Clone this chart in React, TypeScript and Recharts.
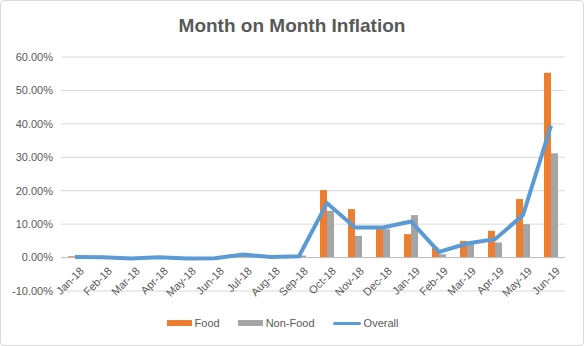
import { Bar, CartesianGrid, ComposedChart, Legend, Line, ReferenceLine, XAxis, YAxis } from 'recharts'

const months = ['Jan-18', 'Feb-18', 'Mar-18', 'Apr-18', 'May-18', 'Jun-18', 'Jul-18', 'Aug-18', 'Sep-18', 'Oct-18', 'Nov-18', 'Dec-18', 'Jan-19', 'Feb-19', 'Mar-19', 'Apr-19', 'May-19', 'Jun-19']
const food = [0.4, 0.1, -0.3, 0.2, -0.2, -0.2, 0.6, 0.2, 0.3, 20.2, 14.5, 8.5, 7.0, 3.0, 5.0, 8.0, 17.5, 55.3]
const nonFood = [0.1, 0.1, -0.2, 0.1, -0.2, -0.1, 1.0, 0.3, 0.6, 14.0, 6.5, 8.5, 12.7, 1.0, 4.2, 4.5, 10.0, 31.2]
const overall = [0.2, 0.1, -0.3, 0.1, -0.3, -0.2, 0.9, 0.2, 0.4, 16.3, 9.0, 9.0, 10.8, 1.7, 4.2, 5.5, 12.7, 39.5]
const yTicks = [-10, 0, 10, 20, 30, 40, 50, 60]

const data = months.map((m, i) => ({ month: m, food: food[i], nonFood: nonFood[i], overall: overall[i] }))

const FONT = 'Liberation Sans, Arial, sans-serif'
const TEXT = '#595959'

// labels sit next to the 0% line, not at the plot bottom
function MonthTick({ x, y, payload }: any) {
  return (
    <text
      x={x + 4}
      y={y - 33}
      transform={`rotate(-45 ${x + 4} ${y - 33})`}
      textAnchor="end"
      dominantBaseline="hanging"
      fontSize={11}
      fill={TEXT}
      fontFamily={FONT}
    >
      {payload.value}
    </text>
  )
}

function ChartLegend() {
  const item = { display: 'flex', alignItems: 'center', gap: 3 }
  return (
    <div style={{ display: 'flex', justifyContent: 'center', gap: 18, fontSize: 11, color: TEXT, fontFamily: FONT, paddingTop: 6 }}>
      <div style={item}>
        <span style={{ width: 25, height: 6, background: '#ED7D31', display: 'block' }} />
        Food
      </div>
      <div style={item}>
        <span style={{ width: 25, height: 6, background: '#A5A5A5', display: 'block' }} />
        Non-Food
      </div>
      <div style={item}>
        <span style={{ width: 28, height: 3, background: '#5B9BD5', display: 'block', borderRadius: 2 }} />
        Overall
      </div>
    </div>
  )
}

export default function App() {
  return (
    <div style={{ position: 'fixed', left: 0, top: 0, width: 584, height: 346, background: '#fff' }}>
      <div
        style={{
          position: 'absolute',
          inset: 0,
          border: '1px solid #D9D9D9',
          borderRadius: 4,
          boxSizing: 'border-box',
          pointerEvents: 'none',
        }}
      />
      <div
        style={{
          position: 'absolute',
          top: 15,
          width: 584,
          textAlign: 'center',
          fontFamily: FONT,
          fontWeight: 'bold',
          fontSize: 19,
          color: TEXT,
        }}
      >
        Month on Month Inflation
      </div>
      <ComposedChart
        width={584}
        height={346}
        data={data}
        margin={{ top: 57, right: 19, bottom: 0, left: 0 }}
        barCategoryGap="25%"
        barGap={0}
      >
        <CartesianGrid vertical={false} stroke="#D9D9D9" />
        <XAxis
          dataKey="month"
          interval={0}
          axisLine={false}
          tickLine={false}
          tick={<MonthTick />}
          height={20}
        />
        <YAxis
          domain={[-10, 60]}
          ticks={yTicks}
          width={61}
          axisLine={false}
          tickLine={false}
          tickFormatter={(v: number) => `${v.toFixed(2)}%`}
          tick={{ fontSize: 11, fill: TEXT, fontFamily: FONT }}
        />
        <ReferenceLine y={0} stroke="#BFBFBF" />
        <Legend verticalAlign="bottom" height={35} content={<ChartLegend />} />
        <Bar dataKey="food" name="Food" fill="#ED7D31" isAnimationActive={false} />
        <Bar dataKey="nonFood" name="Non-Food" fill="#A5A5A5" isAnimationActive={false} />
        <Line
          type="linear"
          dataKey="overall"
          name="Overall"
          stroke="#5B9BD5"
          strokeWidth={4}
          dot={false}
          activeDot={false}
          isAnimationActive={false}
        />
      </ComposedChart>
    </div>
  )
}
